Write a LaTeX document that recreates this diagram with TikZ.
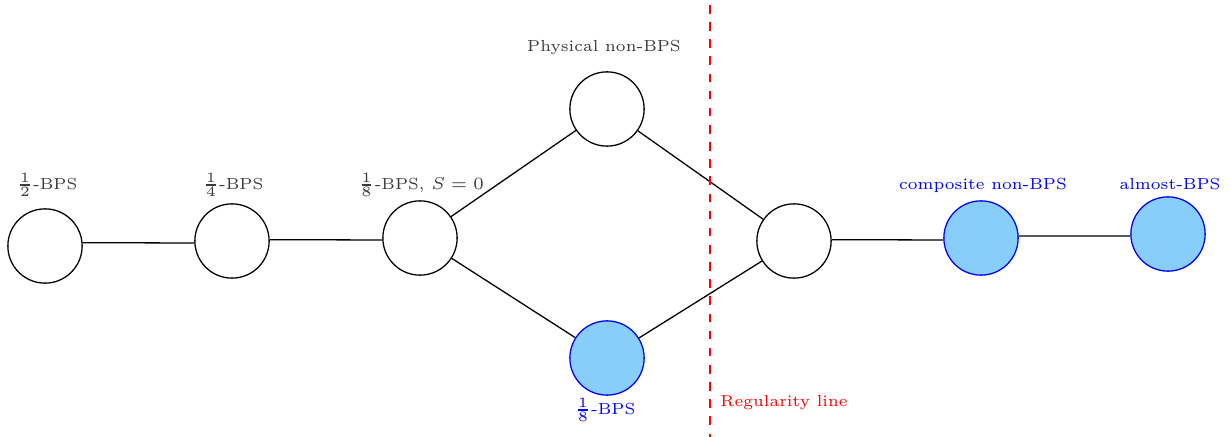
\documentclass[tikz,border=0pt]{standalone}
\usepackage{xcolor}
\definecolor{labgray}{HTML}{3A3A3A}
\definecolor{fillblue}{HTML}{87CEFA}
\begin{document}
\begin{tikzpicture}[x=0.35pt,y=-0.35pt,
  st/.style={circle,draw=black,line width=0.45pt,minimum size=26pt,inner sep=0pt},
  bst/.style={st,draw=blue,fill=fillblue},
  lab/.style={font=\fontsize{5.6}{7}\selectfont,text=labgray,inner sep=1pt},
  blab/.style={font=\fontsize{5.6}{7}\selectfont,text=blue,inner sep=1pt},
  edge/.style={draw=black,line width=0.45pt}]
\useasboundingbox (0,0) rectangle (1230,437);
\node[st] (A) at (45,246) {};
\node[st] (B) at (232,241) {};
\node[st] (C) at (420,238) {};
\node[st] (D) at (607,109) {};
\node[bst] (E) at (607,358) {};
\node[st] (F) at (794,241) {};
\node[bst] (G) at (981,238) {};
\node[bst] (H) at (1168,234) {};
\draw[edge] (A.5) -- (B.183);
\draw[edge] (B.2) -- (C.183);
\draw[edge] (C) -- (D);
\draw[edge] (C) -- (E);
\draw[edge] (D) -- (F);
\draw[edge] (E) -- (F);
\draw[edge] (F.2) -- (G.183);
\draw[edge] (G.3) -- (H.183);
\node[lab] (lA) at (47,185) {$\frac{1}{2}$-BPS};
\node[lab] (lB) at (233,185) {$\frac{1}{4}$-BPS};
\node[lab] (lC) at (421,185) {$\frac{1}{8}$-BPS, $S=0$};
\node[lab] (lD) at (604,48) {Physical non-BPS};
\node[blab] (lE) at (605,410) {$\frac{1}{8}$-BPS};
\node[blab] (lG) at (983,185) {composite non-BPS};
\node[blab] (lH) at (1170,184) {almost-BPS};
\coordinate (rt) at (710,5);
\coordinate (rb) at (710,437);
\draw[red,dashed,line width=0.5pt] (rt) -- (rb);
\node[font=\fontsize{5.6}{7}\selectfont,text=red,anchor=west,inner sep=1pt] (rl) at (717,403) {Regularity line};
\end{tikzpicture}
\end{document}
